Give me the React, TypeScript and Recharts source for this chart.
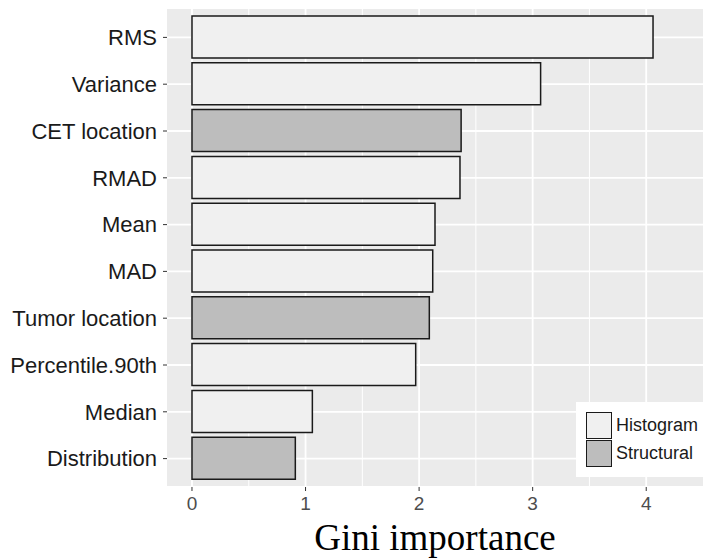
import React from 'react';
import { BarChart, Bar, XAxis, YAxis, CartesianGrid, Cell } from 'recharts';

const categories = ['RMS', 'Variance', 'CET location', 'RMAD', 'Mean', 'MAD', 'Tumor location', 'Percentile.90th', 'Median', 'Distribution'];
const values = [4.06, 3.07, 2.37, 2.36, 2.14, 2.12, 2.09, 1.97, 1.06, 0.91];
const types = ['Histogram', 'Histogram', 'Structural', 'Histogram', 'Histogram', 'Histogram', 'Structural', 'Histogram', 'Histogram', 'Structural'];
const xTicks = [0, 1, 2, 3, 4];
const xMinor = [0.5, 1.5, 2.5, 3.5];
const legendItems = ['Histogram', 'Structural'];

const FILL: Record<string, string> = { Histogram: '#F0F0F0', Structural: '#BDBDBD' };
const SANS = '"Liberation Sans", Arial, sans-serif';
const SERIF = '"Liberation Serif", "Times New Roman", serif';

const data = categories.map((name, i) => ({ name, value: values[i], type: types[i] }));

const LegendBox = () => (
  <div
    style={{
      position: 'absolute',
      left: 576,
      top: 402,
      background: '#FFFFFF',
      width: 127,
      height: 75,
      boxSizing: 'border-box',
      paddingTop: 10,
      paddingLeft: 10,
    }}
  >
    {legendItems.map((t) => (
      <div key={t} style={{ display: 'flex', alignItems: 'center', height: 27.5 }}>
        <div style={{ width: 24, height: 25, background: FILL[t], border: '1.5px solid #1A1A1A' }} />
        <span style={{ marginLeft: 4, fontFamily: SANS, fontSize: 18, color: '#1A1A1A', whiteSpace: 'nowrap' }}>{t}</span>
      </div>
    ))}
  </div>
);

const TitleLabel = (props: any) => {
  const vb = props.viewBox || {};
  return (
    <text x={vb.x + vb.width / 2} y={550} textAnchor="middle" fontFamily={SERIF} fontSize={37} fill="#000000">
      Gini importance
    </text>
  );
};

export default function App() {
  return (
    <div style={{ position: 'absolute', left: 0, top: 0, width: 714, height: 560, background: '#FFFFFF' }}>
      <BarChart
        width={714}
        height={560}
        data={data}
        layout="vertical"
        margin={{ top: 8, right: 11, bottom: 0, left: 0 }}
        barSize={42}
      >
        <CartesianGrid fill="#EBEBEB" stroke="#FFFFFF" strokeWidth={1} horizontal={false} verticalValues={xMinor} />
        <CartesianGrid stroke="#FFFFFF" strokeWidth={1.8} verticalValues={xTicks} />
        <XAxis
          type="number"
          domain={[-0.22, 4.5]}
          ticks={xTicks}
          allowDataOverflow
          axisLine={false}
          tickSize={4}
          tickMargin={6}
          tickLine={{ stroke: '#333333' }}
          tick={{ fill: '#4D4D4D', fontSize: 19, fontFamily: SANS }}
          height={73}
          label={<TitleLabel />}
        />
        <YAxis
          type="category"
          dataKey="name"
          width={167}
          axisLine={false}
          tickSize={4}
          tickMargin={6}
          tickLine={{ stroke: '#333333' }}
          tick={{ fill: '#1A1A1A', fontSize: 22, fontFamily: SANS }}
          padding={{ top: 6, bottom: 5 }}
          interval={0}
        />
        <Bar dataKey="value" stroke="#1A1A1A" strokeWidth={1.5} isAnimationActive={false}>
          {data.map((d, i) => (
            <Cell key={i} fill={FILL[d.type]} />
          ))}
        </Bar>
      </BarChart>
      <LegendBox />
    </div>
  );
}
